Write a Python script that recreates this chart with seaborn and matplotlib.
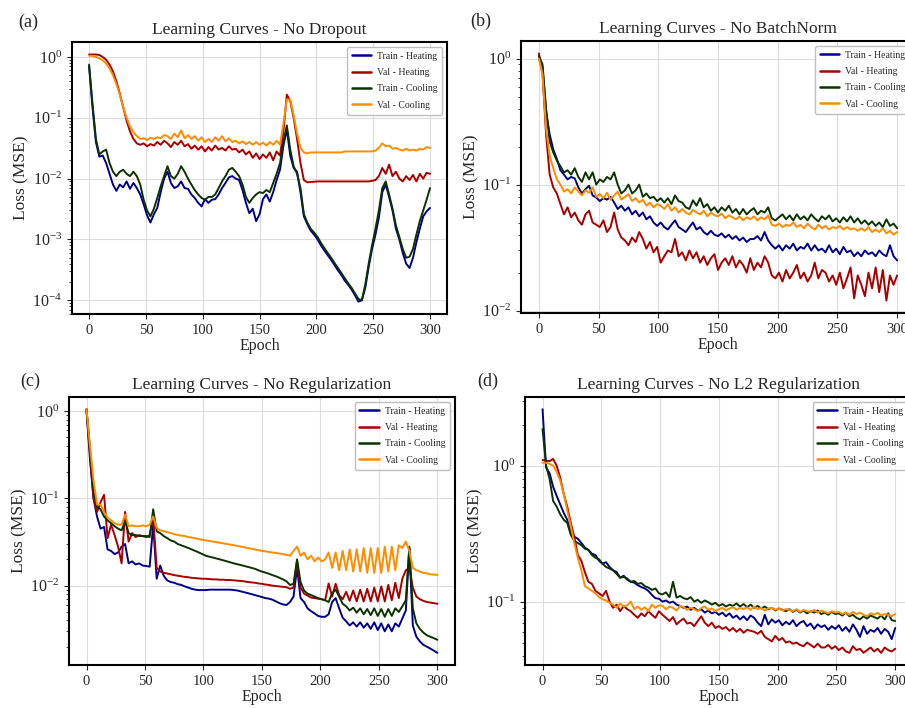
import numpy as np
import pandas as pd
import matplotlib
matplotlib.use("Agg")
import matplotlib.pyplot as plt
import seaborn as sns

# epochs sampled every 3 (0..300)
epochs = np.arange(0, 301, 3)

series_names = ["Train - Heating", "Val - Heating", "Train - Cooling", "Val - Cooling"]
colors = ["#00008B", "#a80000", "#0a3300", "#ff8c00"]

# (a) No Dropout
a_train_heat = [0.70, 0.15, 0.040, 0.023, 0.024, 0.018, 0.012, 0.0080, 0.0063, 0.0080,
                0.0072, 0.0090, 0.0068, 0.0085, 0.0070, 0.0055, 0.0038, 0.0025, 0.0019, 0.0026,
                0.0033, 0.0060, 0.0100, 0.0130, 0.0085, 0.0070, 0.0075, 0.0090, 0.0070, 0.0068,
                0.0055, 0.0048, 0.0040, 0.0035, 0.0046, 0.0040, 0.0045, 0.0046, 0.0055, 0.0070,
                0.0085, 0.0105, 0.0110, 0.0100, 0.0095, 0.0065, 0.0040, 0.0027, 0.0032, 0.0020,
                0.0026, 0.0046, 0.0055, 0.0042, 0.0060, 0.0095, 0.0140, 0.0350, 0.0650, 0.0240,
                0.0150, 0.0130, 0.0060, 0.0024, 0.0018, 0.0014, 0.0012, 0.00100, 0.00080, 0.00066,
                0.00055, 0.00046, 0.00038, 0.00031, 0.00026, 0.00021, 0.00018, 0.00015, 0.00012, 0.000095,
                0.000100, 0.00016, 0.00035, 0.00070, 0.0012, 0.0023, 0.0060, 0.0080, 0.0050, 0.0030,
                0.0015, 0.0010, 0.00060, 0.00040, 0.00034, 0.00050, 0.00090, 0.0015, 0.0024, 0.0029, 0.0033]
a_val_heat = [1.10, 1.10, 1.10, 1.08, 1.00, 0.90, 0.75, 0.58, 0.40, 0.25,
              0.15, 0.09, 0.06, 0.045, 0.038, 0.036, 0.038, 0.034, 0.037, 0.035,
              0.040, 0.036, 0.042, 0.038, 0.033, 0.040, 0.036, 0.042, 0.034, 0.037,
              0.031, 0.035, 0.030, 0.034, 0.028, 0.033, 0.029, 0.035, 0.030, 0.032,
              0.029, 0.034, 0.030, 0.031, 0.027, 0.030, 0.025, 0.028, 0.022, 0.026,
              0.021, 0.025, 0.022, 0.027, 0.020, 0.028, 0.024, 0.060, 0.240, 0.190,
              0.100, 0.045, 0.018, 0.0095, 0.0087, 0.0088, 0.0089, 0.0090, 0.0090, 0.0090,
              0.0090, 0.0090, 0.0090, 0.0090, 0.0090, 0.0090, 0.0090, 0.0090, 0.0090, 0.0090,
              0.0090, 0.0090, 0.0090, 0.0092, 0.0095, 0.0110, 0.0150, 0.0120, 0.0170, 0.0110,
              0.0130, 0.0100, 0.0090, 0.0110, 0.0095, 0.0115, 0.0090, 0.0120, 0.0100, 0.0125, 0.0120]
a_train_cool = [0.75, 0.17, 0.045, 0.025, 0.028, 0.030, 0.018, 0.013, 0.011, 0.013,
                0.014, 0.012, 0.011, 0.013, 0.011, 0.0080, 0.0045, 0.0030, 0.0024, 0.0032,
                0.0048, 0.0075, 0.0110, 0.0160, 0.0110, 0.0100, 0.0120, 0.0160, 0.0130, 0.0100,
                0.0080, 0.0065, 0.0055, 0.0048, 0.0045, 0.0050, 0.0050, 0.0055, 0.0070, 0.0090,
                0.0110, 0.0140, 0.0150, 0.0130, 0.0110, 0.0080, 0.0050, 0.0040, 0.0048, 0.0055,
                0.0060, 0.0058, 0.0065, 0.0060, 0.0085, 0.0120, 0.0180, 0.0400, 0.0750, 0.0300,
                0.0160, 0.0120, 0.0070, 0.0026, 0.0019, 0.0015, 0.0013, 0.0011, 0.00088, 0.00072,
                0.00060, 0.00050, 0.00041, 0.00034, 0.00028, 0.00023, 0.00019, 0.00016, 0.00013, 0.000105,
                0.000100, 0.00018, 0.00040, 0.00080, 0.0015, 0.0030, 0.0070, 0.0090, 0.0055, 0.0032,
                0.0017, 0.0011, 0.00070, 0.00050, 0.00052, 0.00070, 0.0012, 0.0020, 0.0030, 0.0045, 0.0070]
a_val_cool = [1.05, 1.04, 1.00, 0.95, 0.88, 0.78, 0.65, 0.50, 0.36, 0.24,
              0.15, 0.10, 0.072, 0.058, 0.050, 0.045, 0.046, 0.043, 0.047, 0.045,
              0.048, 0.046, 0.052, 0.050, 0.045, 0.055, 0.048, 0.062, 0.046, 0.052,
              0.045, 0.050, 0.042, 0.048, 0.040, 0.045, 0.040, 0.048, 0.042, 0.050,
              0.041, 0.046, 0.040, 0.042, 0.038, 0.041, 0.037, 0.040, 0.036, 0.040,
              0.036, 0.039, 0.035, 0.040, 0.036, 0.042, 0.036, 0.080, 0.200, 0.200,
              0.110, 0.055, 0.032, 0.027, 0.026, 0.027, 0.027, 0.027, 0.027, 0.027,
              0.027, 0.027, 0.027, 0.027, 0.027, 0.028, 0.028, 0.028, 0.028, 0.028,
              0.028, 0.028, 0.028, 0.028, 0.029, 0.032, 0.038, 0.034, 0.035, 0.031,
              0.032, 0.030, 0.029, 0.031, 0.029, 0.030, 0.029, 0.031, 0.030, 0.033, 0.032]

# (b) No BatchNorm
b_train_heat = [1.00, 0.86, 0.38, 0.25, 0.19, 0.16, 0.13, 0.12, 0.11, 0.115,
                0.112, 0.095, 0.085, 0.092, 0.098, 0.082, 0.079, 0.074, 0.078, 0.076,
                0.08, 0.072, 0.064, 0.068, 0.062, 0.066, 0.058, 0.062, 0.056, 0.06,
                0.053, 0.056, 0.05, 0.047, 0.05, 0.046, 0.044, 0.048, 0.052, 0.046,
                0.044, 0.042, 0.046, 0.05, 0.044, 0.046, 0.042, 0.040, 0.043, 0.040,
                0.039, 0.041, 0.038, 0.040, 0.037, 0.039, 0.036, 0.038, 0.035, 0.037,
                0.037, 0.039, 0.036, 0.042, 0.036, 0.033, 0.031, 0.033, 0.030, 0.033,
                0.031, 0.034, 0.03, 0.032, 0.031, 0.034, 0.03, 0.033, 0.03, 0.031,
                0.029, 0.033, 0.029, 0.031, 0.028, 0.032, 0.029, 0.03, 0.027, 0.029,
                0.027, 0.03, 0.028, 0.029, 0.027, 0.03, 0.028, 0.027, 0.033, 0.027, 0.025]
b_val_heat = [1.10, 0.76, 0.25, 0.12, 0.095, 0.085, 0.070, 0.058, 0.066, 0.055,
              0.06, 0.052, 0.048, 0.058, 0.062, 0.05, 0.048, 0.046, 0.052, 0.042,
              0.046, 0.06, 0.044, 0.038, 0.036, 0.033, 0.038, 0.035, 0.042, 0.037,
              0.031, 0.035, 0.029, 0.032, 0.024, 0.027, 0.03, 0.029, 0.037, 0.027,
              0.029, 0.025, 0.03, 0.026, 0.029, 0.024, 0.027, 0.023, 0.026, 0.028,
              0.021, 0.024, 0.026, 0.023, 0.027, 0.022, 0.025, 0.023, 0.02, 0.026,
              0.021, 0.024, 0.022, 0.027, 0.024, 0.019, 0.018, 0.02, 0.017, 0.021,
              0.018, 0.02, 0.023, 0.018, 0.02, 0.017, 0.019, 0.024, 0.018, 0.021,
              0.02, 0.017, 0.019, 0.016, 0.02, 0.015, 0.018, 0.022, 0.0125, 0.019,
              0.016, 0.013, 0.02, 0.015, 0.022, 0.014, 0.021, 0.012, 0.019, 0.016, 0.019]
b_train_cool = [1.05, 0.90, 0.40, 0.22, 0.18, 0.155, 0.14, 0.125, 0.13, 0.12,
                0.135, 0.115, 0.105, 0.125, 0.11, 0.125, 0.10, 0.11, 0.105, 0.115,
                0.11, 0.125, 0.10, 0.085, 0.09, 0.10, 0.085, 0.09, 0.10, 0.08,
                0.085, 0.078, 0.08, 0.074, 0.078, 0.072, 0.078, 0.07, 0.082, 0.074,
                0.072, 0.066, 0.064, 0.075, 0.068, 0.078, 0.066, 0.07, 0.062, 0.066,
                0.060, 0.066, 0.062, 0.068, 0.060, 0.064, 0.058, 0.064, 0.058, 0.062,
                0.065, 0.058, 0.062, 0.060, 0.066, 0.054, 0.052, 0.055, 0.058, 0.053,
                0.057, 0.052, 0.058, 0.053, 0.056, 0.052, 0.058, 0.054, 0.051, 0.056,
                0.053, 0.057, 0.051, 0.054, 0.05, 0.055, 0.051, 0.056, 0.05, 0.054,
                0.049, 0.052, 0.048, 0.051, 0.047, 0.05, 0.046, 0.053, 0.047, 0.049, 0.045]
b_val_cool = [1.00, 0.75, 0.28, 0.17, 0.135, 0.11, 0.10, 0.088, 0.092, 0.085,
              0.095, 0.088, 0.082, 0.09, 0.086, 0.095, 0.08, 0.084, 0.078, 0.086,
              0.076, 0.082, 0.088, 0.076, 0.08, 0.084, 0.074, 0.078, 0.072, 0.076,
              0.068, 0.072, 0.066, 0.07, 0.068, 0.064, 0.07, 0.062, 0.066, 0.06,
              0.064, 0.06, 0.058, 0.063, 0.06, 0.058, 0.062, 0.056, 0.06, 0.057,
              0.056, 0.059, 0.054, 0.057, 0.055, 0.053, 0.056, 0.052, 0.055, 0.053,
              0.056, 0.052, 0.055, 0.053, 0.057, 0.048, 0.047, 0.049, 0.046, 0.048,
              0.047, 0.05, 0.046, 0.048, 0.045, 0.049, 0.046, 0.044, 0.048, 0.045,
              0.047, 0.044, 0.046, 0.045, 0.047, 0.044, 0.046, 0.044, 0.045, 0.043,
              0.045, 0.043, 0.046, 0.042, 0.044, 0.042, 0.045, 0.041, 0.043, 0.040, 0.042]

# (c) No Regularization
c_train_heat = [1.00, 0.28, 0.10, 0.062, 0.045, 0.047, 0.026, 0.025, 0.023, 0.024,
                0.028, 0.03, 0.018, 0.019, 0.0175, 0.018, 0.017, 0.0168, 0.0165, 0.05,
                0.012, 0.017, 0.013, 0.0115, 0.011, 0.0108, 0.0104, 0.0102, 0.0098, 0.0095,
                0.0092, 0.009, 0.0089, 0.0089, 0.0089, 0.009, 0.009, 0.009, 0.009, 0.009,
                0.009, 0.009, 0.0089, 0.0088, 0.0086, 0.0084, 0.0082, 0.008, 0.0078, 0.0076,
                0.0074, 0.0072, 0.0071, 0.0069, 0.0066, 0.0063, 0.0061, 0.006, 0.0065, 0.0075,
                0.016, 0.0072, 0.0065, 0.0055, 0.0051, 0.0048, 0.0045, 0.0044, 0.0044, 0.0047,
                0.0065, 0.0072, 0.0055, 0.0043, 0.0039, 0.0035, 0.0038, 0.0034, 0.0038, 0.0033,
                0.0037, 0.0032, 0.0038, 0.0031, 0.0037, 0.003, 0.0036, 0.003, 0.0037, 0.0034,
                0.0042, 0.0052, 0.027, 0.0035, 0.0026, 0.0023, 0.0021, 0.002, 0.0019, 0.0018, 0.0017]
c_val_heat = [1.05, 0.32, 0.10, 0.07, 0.09, 0.11, 0.035, 0.05, 0.038, 0.028,
              0.018, 0.07, 0.032, 0.04, 0.036, 0.038, 0.037, 0.036, 0.038, 0.06,
              0.016, 0.0145, 0.014, 0.0138, 0.0135, 0.0132, 0.013, 0.0128, 0.0126, 0.0125,
              0.0123, 0.0122, 0.0121, 0.012, 0.012, 0.0119, 0.0118, 0.0118, 0.0117, 0.0117,
              0.0116, 0.0116, 0.0115, 0.0114, 0.0113, 0.0112, 0.011, 0.0109, 0.0108, 0.0106,
              0.0105, 0.0103, 0.0102, 0.01, 0.0099, 0.0098, 0.0097, 0.0096, 0.0092, 0.0095,
              0.019, 0.0095, 0.0081, 0.0077, 0.0073, 0.0072, 0.0071, 0.007, 0.0068, 0.0106,
              0.0075, 0.0105, 0.0078, 0.007, 0.0085, 0.0067, 0.0088, 0.0066, 0.009, 0.0066,
              0.0092, 0.0066, 0.0095, 0.0066, 0.0098, 0.0066, 0.0102, 0.0068, 0.0108, 0.0072,
              0.012, 0.015, 0.016, 0.0095, 0.0075, 0.007, 0.0067, 0.0065, 0.0064, 0.0063, 0.0062]
c_train_cool = [1.05, 0.36, 0.12, 0.08, 0.075, 0.062, 0.056, 0.052, 0.048, 0.045,
                0.043, 0.055, 0.04, 0.038, 0.038, 0.037, 0.037, 0.037, 0.036, 0.075,
                0.042, 0.04, 0.037, 0.035, 0.033, 0.032, 0.03, 0.029, 0.028, 0.027,
                0.026, 0.025, 0.024, 0.023, 0.022, 0.0215, 0.021, 0.0205, 0.02, 0.0195,
                0.019, 0.0185, 0.018, 0.0176, 0.0172, 0.0168, 0.0164, 0.016, 0.0156, 0.015,
                0.0145, 0.0141, 0.0137, 0.0132, 0.0128, 0.0123, 0.0118, 0.0112, 0.0102, 0.0105,
                0.020, 0.011, 0.0088, 0.0081, 0.0078, 0.0075, 0.0072, 0.007, 0.0068, 0.0065,
                0.0082, 0.009, 0.0075, 0.0062, 0.0058, 0.0052, 0.0056, 0.0049, 0.0055, 0.0047,
                0.0054, 0.0046, 0.0055, 0.0045, 0.0054, 0.0044, 0.0054, 0.0045, 0.0055, 0.005,
                0.0058, 0.0068, 0.028, 0.0055, 0.0037, 0.0032, 0.0029, 0.0027, 0.0026, 0.0025, 0.0024]
c_val_cool = [1.05, 0.40, 0.16, 0.085, 0.085, 0.07, 0.06, 0.056, 0.052, 0.05,
              0.05, 0.065, 0.048, 0.049, 0.048, 0.048, 0.049, 0.048, 0.05, 0.062,
              0.046, 0.043, 0.042, 0.041, 0.04, 0.039, 0.038, 0.0375, 0.037, 0.036,
              0.0355, 0.035, 0.034, 0.0335, 0.033, 0.0325, 0.032, 0.0315, 0.031, 0.0305,
              0.03, 0.0295, 0.029, 0.0285, 0.028, 0.0275, 0.027, 0.0265, 0.026, 0.0255,
              0.025, 0.0247, 0.0243, 0.024, 0.0237, 0.0233, 0.023, 0.0225, 0.022, 0.025,
              0.028, 0.022, 0.024, 0.02, 0.022, 0.019, 0.021, 0.019, 0.02, 0.024,
              0.016, 0.024, 0.015, 0.025, 0.015, 0.026, 0.0145, 0.026, 0.0145, 0.027,
              0.014, 0.027, 0.014, 0.027, 0.014, 0.028, 0.0145, 0.028, 0.015, 0.029,
              0.027, 0.032, 0.025, 0.016, 0.015, 0.0145, 0.014, 0.0138, 0.0135, 0.0134, 0.0133]

# (d) No L2 Regularization
d_train_heat = [2.6, 0.97, 0.88, 0.70, 0.60, 0.52, 0.45, 0.40, 0.32, 0.30,
                0.29, 0.27, 0.25, 0.24, 0.225, 0.22, 0.20, 0.19, 0.195, 0.18,
                0.17, 0.165, 0.15, 0.155, 0.145, 0.14, 0.138, 0.132, 0.128, 0.125,
                0.12, 0.112, 0.106, 0.105, 0.1, 0.102, 0.098, 0.1, 0.095, 0.093,
                0.09, 0.092, 0.087, 0.09, 0.086, 0.088, 0.083, 0.086, 0.082, 0.084,
                0.08, 0.083, 0.078, 0.082, 0.076, 0.079, 0.074, 0.078, 0.073, 0.079,
                0.076, 0.07, 0.066, 0.08, 0.068, 0.074, 0.07, 0.073, 0.067, 0.071,
                0.068, 0.073, 0.066, 0.07, 0.072, 0.066, 0.069, 0.063, 0.068, 0.065,
                0.067, 0.062, 0.066, 0.063, 0.067, 0.061, 0.065, 0.06, 0.068, 0.062,
                0.055, 0.066, 0.058, 0.062, 0.06, 0.064, 0.058, 0.063, 0.06, 0.053, 0.064]
d_val_heat = [1.10, 1.09, 1.08, 1.12, 1.00, 0.82, 0.62, 0.50, 0.38, 0.30,
              0.22, 0.20, 0.165, 0.14, 0.135, 0.12, 0.115, 0.11, 0.12, 0.10,
              0.09, 0.095, 0.085, 0.093, 0.088, 0.085, 0.08, 0.076, 0.082, 0.078,
              0.085, 0.08, 0.076, 0.085, 0.08, 0.076, 0.072, 0.077, 0.068, 0.072,
              0.075, 0.069, 0.07, 0.066, 0.072, 0.078, 0.07, 0.066, 0.07, 0.064,
              0.066, 0.063, 0.065, 0.061, 0.064, 0.06, 0.063, 0.059, 0.062, 0.061,
              0.06, 0.058, 0.061, 0.055, 0.053, 0.051, 0.056, 0.052, 0.054, 0.05,
              0.051, 0.049, 0.05, 0.048, 0.047, 0.05, 0.048, 0.046, 0.049, 0.046,
              0.046, 0.048, 0.045, 0.047, 0.044, 0.046, 0.043, 0.042, 0.047, 0.044,
              0.045, 0.042, 0.044, 0.046, 0.043, 0.045, 0.042, 0.046, 0.044, 0.043, 0.045]
d_train_cool = [1.86, 1.0, 0.80, 0.55, 0.50, 0.44, 0.40, 0.38, 0.31, 0.28,
                0.27, 0.26, 0.245, 0.24, 0.22, 0.21, 0.205, 0.19, 0.18, 0.175,
                0.17, 0.16, 0.15, 0.152, 0.148, 0.14, 0.142, 0.135, 0.137, 0.13,
                0.127, 0.122, 0.125, 0.115, 0.113, 0.117, 0.108, 0.14, 0.107, 0.11,
                0.106, 0.104, 0.108, 0.1, 0.103, 0.098, 0.102, 0.099, 0.095, 0.098,
                0.093, 0.096, 0.092, 0.095, 0.093, 0.097, 0.092, 0.096, 0.091, 0.095,
                0.09, 0.093, 0.089, 0.092, 0.088, 0.09, 0.086, 0.089, 0.087, 0.085,
                0.088, 0.084, 0.087, 0.083, 0.086, 0.082, 0.085, 0.083, 0.086, 0.081,
                0.083, 0.08, 0.084, 0.081, 0.082, 0.079, 0.083, 0.078, 0.08, 0.076,
                0.074, 0.078, 0.075, 0.079, 0.077, 0.075, 0.079, 0.074, 0.082, 0.073, 0.072]
d_val_cool = [1.05, 1.05, 1.03, 1.0, 0.90, 0.78, 0.62, 0.47, 0.36, 0.27,
              0.21, 0.17, 0.13, 0.125, 0.12, 0.115, 0.108, 0.104, 0.102, 0.098,
              0.095, 0.09, 0.097, 0.092, 0.094, 0.1, 0.088, 0.092, 0.087, 0.091,
              0.085, 0.095, 0.09, 0.094, 0.093, 0.088, 0.092, 0.09, 0.086, 0.093,
              0.091, 0.087, 0.09, 0.088, 0.085, 0.09, 0.092, 0.087, 0.089, 0.085,
              0.088, 0.09, 0.086, 0.089, 0.091, 0.087, 0.09, 0.088, 0.091, 0.087,
              0.092, 0.088, 0.09, 0.086, 0.089, 0.09, 0.087, 0.089, 0.086, 0.088,
              0.087, 0.085, 0.088, 0.084, 0.087, 0.085, 0.084, 0.087, 0.083, 0.086,
              0.084, 0.082, 0.085, 0.083, 0.084, 0.081, 0.083, 0.08, 0.084, 0.081,
              0.083, 0.08, 0.078, 0.082, 0.08, 0.083, 0.079, 0.081, 0.08, 0.078, 0.081]

panels = [
    ("(a)", "Learning Curves - No Dropout", [a_train_heat, a_val_heat, a_train_cool, a_val_cool]),
    ("(b)", "Learning Curves - No BatchNorm", [b_train_heat, b_val_heat, b_train_cool, b_val_cool]),
    ("(c)", "Learning Curves - No Regularization", [c_train_heat, c_val_heat, c_train_cool, c_val_cool]),
    ("(d)", "Learning Curves - No L2 Regularization", [d_train_heat, d_val_heat, d_train_cool, d_val_cool]),
]

sns.set_style("whitegrid", {"axes.edgecolor": "black", "grid.color": "#dcdcdc",
                            "xtick.bottom": True, "ytick.left": True})
plt.rcParams["font.family"] = ["Liberation Serif", "DejaVu Serif"]
plt.rcParams["mathtext.fontset"] = "stix"

fig = plt.figure(figsize=(9.05, 7.08), dpi=100)
positions = [[0.0796, 0.5565, 0.4144, 0.384],
             [0.5757, 0.558, 0.4354, 0.384],
             [0.0762, 0.0607, 0.4265, 0.3785],
             [0.580, 0.0607, 0.4287, 0.3785]]
label_xy = [(0.020, 0.968), (0.520, 0.970), (0.022, 0.462), (0.527, 0.462)]

for (tag, title, data), pos, lxy in zip(panels, positions, label_xy):
    ax = fig.add_axes(pos)
    for name, vals, col in zip(series_names, data, colors):
        assert len(vals) == len(epochs), (title, name, len(vals))
        df = pd.DataFrame({"Epoch": epochs, "Loss": vals})
        sns.lineplot(data=df, x="Epoch", y="Loss", color=col, lw=1.4, label=name, ax=ax)
    ax.set_yscale("log")
    ax.set_xticks([0, 50, 100, 150, 200, 250, 300])
    ax.set_title(title, fontsize=12.5, pad=6)
    ax.set_xlabel("Epoch", fontsize=11.5, labelpad=1)
    ax.set_ylabel("Loss (MSE)", fontsize=12.5, labelpad=2)
    ax.tick_params(axis="x", labelsize=10.5, length=3.5, width=0.8)
    ax.tick_params(axis="y", labelsize=11.5, length=3.5, width=0.8)
    ax.tick_params(which="minor", length=2, width=0.6, left=True)
    ax.grid(True, which="major", lw=0.8)
    ax.grid(False, which="minor")
    for s in ax.spines.values():
        s.set_linewidth(1.5)
        s.set_color("black")
    leg = ax.legend(loc="upper right", fontsize=7, frameon=True, handlelength=2.0,
                    handletextpad=0.6, borderpad=0.5, labelspacing=0.75)
    leg.get_frame().set_edgecolor("#b0b0b0")
    for h in leg.get_lines():
        h.set_linewidth(1.8)
    fig.text(lxy[0], lxy[1], tag, fontsize=13, va="center", ha="left")

fig.savefig("out.png", dpi=100)
